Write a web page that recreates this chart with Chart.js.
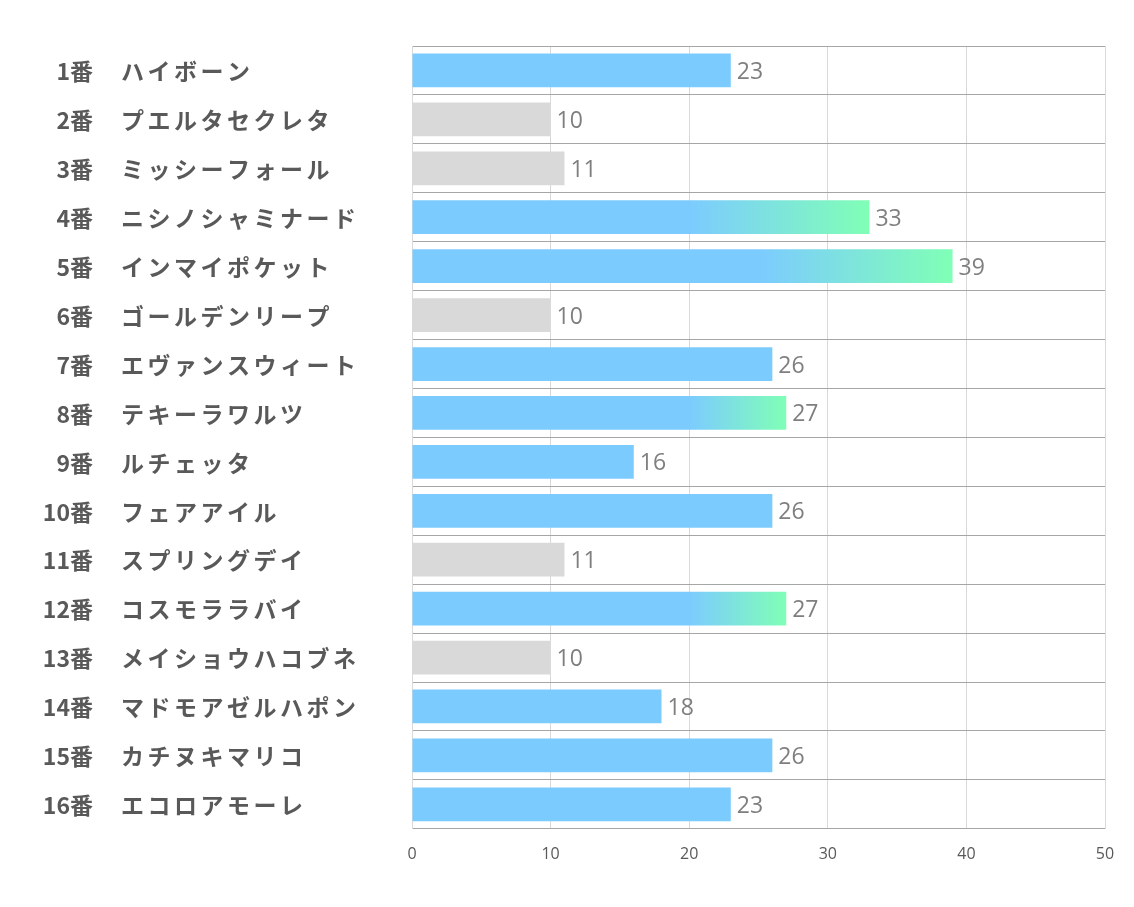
<!DOCTYPE html>
<html>
<head>
<meta charset="utf-8">
<script src="https://cdn.jsdelivr.net/npm/chart.js@4"></script>
<style>
  body { margin: 0; background: #fff; }
  #wrap { width: 1134px; height: 907px; }
</style>
</head>
<body>
<div id="wrap"><canvas id="barChart"></canvas></div>
<script>
let horseNums = ['1番','2番','3番','4番','5番','6番','7番','8番','9番','10番','11番','12番','13番','14番','15番','16番'];
let horseNames = ['ハイボーン','プエルタセクレタ','ミッシーフォール','ニシノシャミナード','インマイポケット','ゴールデンリープ','エヴァンスウィート','テキーラワルツ','ルチェッタ','フェアアイル','スプリングデイ','コスモララバイ','メイショウハコブネ','マドモアゼルハポン','カチヌキマリコ','エコロアモーレ'];
let scores = [23, 10, 11, 33, 39, 10, 26, 27, 16, 26, 11, 27, 10, 18, 26, 23];
// blue / gray / grad(blue -> green)
let barKinds = ['blue','gray','gray','grad','grad','gray','blue','grad','blue','blue','gray','grad','gray','blue','blue','blue'];
let xTicks = [0, 10, 20, 30, 40, 50];

let blue = '#7ccbff';
let green = '#80ffb6';
let gray = '#d9d9d9';

function barColor(ctx) {
    let kind = barKinds[ctx.dataIndex];
    if (kind == 'gray') return gray;
    if (kind == 'blue') return blue;
    let chart = ctx.chart;
    let x = chart.scales.x;
    if (!chart.chartArea || !x) return blue;
    let v = scores[ctx.dataIndex];
    let start = x.getPixelForValue(Math.max(20, v - 14));
    let end = x.getPixelForValue(v);
    let g = chart.ctx.createLinearGradient(start, 0, end, 0);
    g.addColorStop(0, blue);
    g.addColorStop(1, green);
    return g;
}

let sideLabels = {
    id: 'sideLabels',
    afterDraw(chart) {
        let c = chart.ctx;
        let y = chart.scales.y;
        c.save();
        c.fillStyle = '#595959';
        c.textBaseline = 'middle';
        c.font = 'bold 23px "Noto Sans CJK JP", "Noto Sans", sans-serif';
        horseNums.forEach((n, i) => {
            let py = y.getPixelForValue(i) + 1;
            c.letterSpacing = '0px';
            c.textAlign = 'right';
            c.fillText(n, 93, py);
            c.textAlign = 'left';
            c.letterSpacing = '3.5px';
            c.fillText(horseNames[i], 121, py);
        });
        c.restore();
    }
};

let valueLabels = {
    id: 'valueLabels',
    afterDatasetsDraw(chart) {
        let c = chart.ctx;
        let meta = chart.getDatasetMeta(0);
        c.save();
        c.fillStyle = '#7f7f7f';
        c.font = '23px "Open Sans", sans-serif';
        c.textAlign = 'left';
        c.textBaseline = 'middle';
        meta.data.forEach((bar, i) => {
            c.fillText(String(scores[i]), bar.x + 6, bar.y + 2);
        });
        c.restore();
    }
};

new Chart(document.getElementById('barChart'), {
    type: 'bar',
    data: {
        labels: horseNames,
        datasets: [{
            data: scores,
            backgroundColor: barColor,
            borderWidth: 0,
            barPercentage: 0.69,
            categoryPercentage: 1
        }]
    },
    options: {
        indexAxis: 'y',
        responsive: true,
        maintainAspectRatio: false,
        animation: false,
        layout: { padding: { left: 412, right: 29, top: 46, bottom: 27 } },
        plugins: {
            legend: { display: false },
            tooltip: { enabled: false }
        },
        scales: {
            x: {
                min: 0,
                max: 50,
                afterBuildTicks(axis) {
                    axis.ticks = xTicks.map(v => ({ value: v }));
                },
                grid: { color: '#d9d9d9', drawTicks: false },
                border: { display: false },
                ticks: {
                    color: '#595959',
                    padding: 16,
                    font: { family: '"Open Sans", sans-serif', size: 16 }
                }
            },
            y: {
                grid: { color: '#a6a6a6', drawTicks: false, offset: true },
                border: { color: '#d9d9d9' },
                ticks: { display: false }
            }
        }
    },
    plugins: [sideLabels, valueLabels]
});
</script>
</body>
</html>
